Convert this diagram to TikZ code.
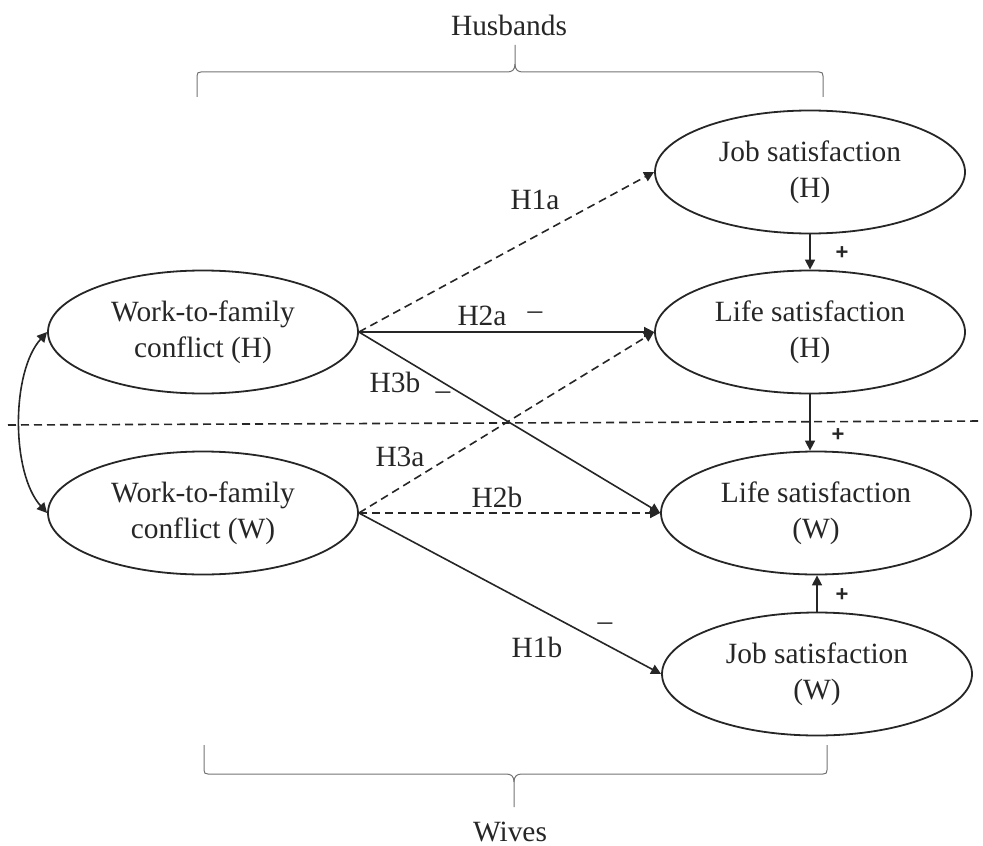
\documentclass[tikz,border=0pt]{standalone}
\usepackage{fontspec}
\setmainfont{Liberation Serif}
\newfontfamily\plusfont{Liberation Sans}
\usetikzlibrary{shapes.geometric,arrows.meta}
\begin{document}
\begin{tikzpicture}[x=0.5pt,y=-0.5pt,
  every node/.style={font=\fontsize{14.7}{18}\selectfont, text=black!85},
  ell/.style={ellipse, draw=black!85, line width=0.9pt, minimum width=155pt, minimum height=61.5pt, inner sep=0pt, align=center},
  conn/.style={draw=black!85, line width=0.8pt, -{Triangle[length=5pt,width=5pt]}},
  dsh/.style={dash pattern=on 4pt off 2.5pt},
  lbl/.style={inner sep=0pt},
  plus/.style={font=\plusfont\bfseries\fontsize{11}{13}\selectfont, inner sep=0pt},
  bracestyle/.style={line width=0.5pt, draw=black!55}
]
\useasboundingbox (0,0) rectangle (983,845);

% nodes
\node[ell] (wH) at (203,332) {Work-to-family\\conflict (H)};
\node[ell] (wW) at (203,513) {Work-to-family\\conflict (W)};
\node[ell] (jH) at (810,172) {Job satisfaction\\(H)};
\node[ell] (lH) at (810,332) {Life satisfaction\\(H)};
\node[ell] (lW) at (816,513) {Life satisfaction\\(W)};
\node[ell] (jW) at (817,674) {Job satisfaction\\(W)};

% group labels
\node[lbl] (hus) at (509,25) {Husbands};
\node[lbl] (wiv) at (510,832) {Wives};

% braces
\draw[bracestyle] (197,97) -- (197,76) .. controls (197,73) and (198,72) .. (201,72)
  -- (507,72) .. controls (512,72) and (515,70) .. (515,64) -- (515,45);
\draw[bracestyle] (515,64) .. controls (515,70) and (518,72) .. (523,72)
  -- (819,72) .. controls (822,72) and (823,73) .. (823,76) -- (823,97);
\draw[bracestyle] (204,745) -- (204,770) .. controls (204,773) and (205,774) .. (208,774)
  -- (506,774) .. controls (511,774) and (514,776) .. (514,782) -- (514,807);
\draw[bracestyle] (514,782) .. controls (514,776) and (517,774) .. (522,774)
  -- (823,774) .. controls (826,774) and (827,773) .. (827,770) -- (827,745);

% dividing line
\coordinate (divL) at (8,425);
\coordinate (divR) at (983,421);
\draw[draw=black!85, line width=0.8pt, dsh] (divL) -- (divR);

% correlation
\draw[draw=black!85, line width=0.8pt, {Triangle[length=5pt,width=5pt]}-{Triangle[length=5pt,width=5pt]}]
  (wH.west) .. controls (11,372) and (11,473) .. (wW.west);

% paths
\draw[conn,dsh] (wH.east) -- (jH.west);
\draw[conn] (wH.east) -- (lH.west);
\draw[conn] (wH.east) -- (lW.west);
\draw[conn,dsh] (wW.east) -- (lH.west);
\draw[conn,dsh] (wW.east) -- (lW.west);
\draw[conn] (wW.east) -- (jW.west);
\draw[conn] (jH.south) -- (jH.south |- lH.north);
\draw[conn] (lH.south) -- (lH.south |- lW.north);
\draw[conn] (jW.north) -- (jW.north |- lW.south);

% labels
\node[lbl] (h1a) at (535,200) {H1a};
\node[lbl] (h2a) at (482,316) {H2a};
\node[lbl] (m2a) at (535,316) {–};
\node[lbl] (h3b) at (395,382) {H3b};
\node[lbl] (m3b) at (443,396) {–};
\node[lbl] (h3a) at (400,457) {H3a};
\node[lbl] (h2b) at (497,497) {H2b};
\node[lbl] (h1b) at (537,647) {H1b};
\node[lbl] (m1b) at (605,627) {–};
\node[plus] (p1) at (842,253) {+};
\node[plus] (p2) at (838,435) {+};
\node[plus] (p3) at (842,595) {+};
\end{tikzpicture}
\end{document}
